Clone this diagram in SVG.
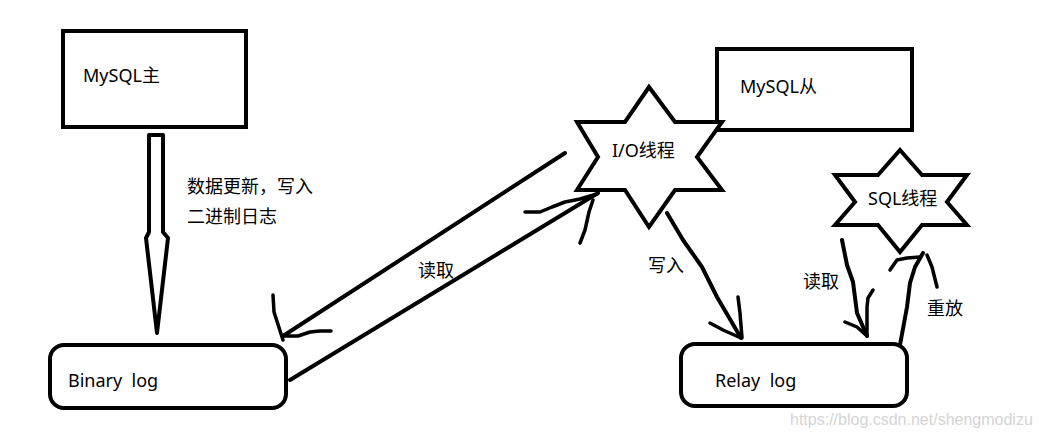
<svg xmlns="http://www.w3.org/2000/svg" width="1039" height="437" viewBox="0 0 1039 437">
<style>
.box{fill:#fff;stroke:#000;stroke-width:4}
.star{fill:#fff;stroke:#000;stroke-width:4;stroke-linejoin:miter}
.ln{fill:none;stroke:#000;stroke-width:4;stroke-linecap:round;stroke-linejoin:round}
.hd{fill:none;stroke:#000;stroke-width:3.5;stroke-linecap:round;stroke-linejoin:round}
text{font-family:"Noto Sans","Noto Sans CJK SC",sans-serif;font-size:18px;fill:#000;white-space:pre}
.wm{font-family:"Liberation Sans",Arial,sans-serif;font-size:16px;fill:#d4d4d4}
</style>
<rect width="1039" height="437" fill="#fff"/>
<g id="connectors">
<path class="ln" d="M149,135 V232 L146,238 L157,333 L168,238 L163,232 V135 Z"/>
<path class="ln" d="M565,153 L283,336"/>
<path class="hd" d="M273,295 L274,312 L283,340"/>
<path class="hd" d="M284,336 L298,336 L310,332 L320,331 L331,331"/>
<path class="ln" d="M290,380 L598,193"/>
<path class="hd" d="M525,212 L540,212 L552,207 L565,202 L580,199 L597,194"/>
<path class="hd" d="M593,200 L589,212 L585,230 L580,243"/>
<path class="ln" d="M667,213 L683,240 L702,267 L717,297 L741,338"/>
<path class="hd" d="M710,323 L723,330 L741,338"/>
<path class="hd" d="M738,297 L740,313 L742,338"/>
<path class="ln" d="M842,240 L847,265 L853,282 L857,313 L867,336"/>
<path class="hd" d="M845,322 L857,327 L867,336"/>
<path class="hd" d="M873,290 L868,298 L867,307 L867,336"/>
<path class="ln" d="M900,345 L907,307 L910,283 L915,267 L923,253"/>
<path class="hd" d="M890,270 L897,260 L907,258 L920,257"/>
<path class="hd" d="M927,255 L932,267 L937,287"/>
</g>
<g id="master">
<rect class="box" x="63" y="31" width="183" height="96"/>
<text x="83" y="82">MySQL主</text>
</g>
<g id="label-write-binlog">
<text x="187" y="193">数据更新，写入</text>
<text x="187" y="223">二进制日志</text>
</g>
<g id="binary-log">
<rect class="box" x="50" y="345" width="236" height="63" rx="14" ry="14"/>
<text x="68" y="387">Binary  log</text>
</g>
<g id="label-read1"><text x="418" y="277">读取</text></g>
<g id="slave">
<rect class="box" x="717" y="49" width="195" height="81"/>
<text x="740" y="93">MySQL从</text>
</g>
<g id="io-thread">
<polygon class="star" points="649,87 675,122 722,122 697,157 722,190 675,190 649,227 625,190 577,190 598,157 577,122 625,122"/>
<text x="612" y="157">I/O线程</text>
</g>
<g id="label-write2"><text x="648" y="272">写入</text></g>
<g id="sql-thread">
<polygon class="star" points="900,150 922,175 967,175 947,202 967,225 922,225 900,252 878,225 835,225 855,202 835,175 878,175"/>
<text x="868" y="205">SQL线程</text>
</g>
<g id="label-read2"><text x="803" y="288">读取</text></g>
<g id="label-replay"><text x="927" y="315">重放</text></g>
<g id="relay-log">
<rect class="box" x="681" y="344" width="226" height="62" rx="14" ry="14"/>
<text x="715" y="387">Relay  log</text>
</g>
<text class="wm" x="790" y="425">https://blog.csdn.net/shengmodizu</text>
</svg>
